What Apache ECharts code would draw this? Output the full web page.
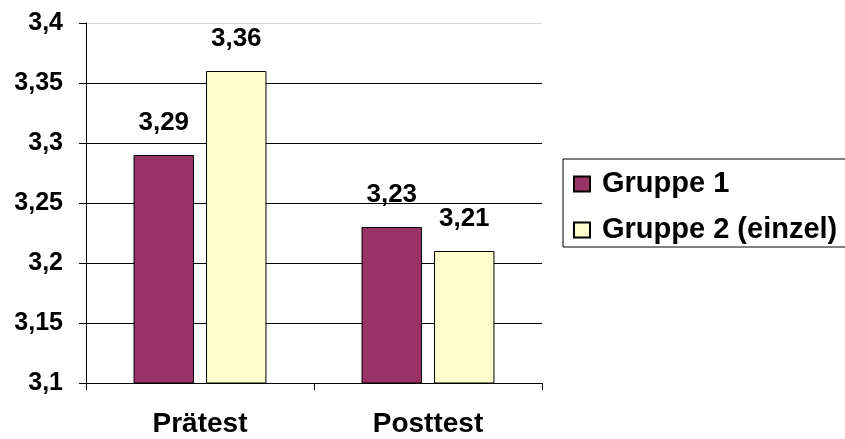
<!DOCTYPE html>
<html>
<head>
<meta charset="utf-8">
<script src="https://cdn.jsdelivr.net/npm/echarts@6/dist/echarts.min.js"></script>
<style>
  html, body { margin: 0; padding: 0; background: #fff; }
  #chart { width: 845px; height: 439px; }
</style>
</head>
<body>
<div id="chart"></div>
<script>
// Test phases on the x axis
const categories = ['Prätest', 'Posttest'];
// Mean scores per group
const gruppe1 = [3.29, 3.23];
const gruppe2 = [3.36, 3.21];
const seriesNames = ['Gruppe 1', 'Gruppe 2 (einzel)'];

const fontFamily = '"Liberation Sans", Arial, sans-serif';
const fmt = v => String(v).replace('.', ',');

const chart = echarts.init(document.getElementById('chart'), null, { renderer: 'canvas' });

const labelStyle = {
  show: true,
  position: 'top',
  distance: 19,
  fontFamily: fontFamily,
  fontWeight: 'bold',
  fontSize: 26,
  color: '#000',
  formatter: p => fmt(p.value)
};

chart.setOption({
  animation: false,
  backgroundColor: '#fff',
  grid: { left: 86, right: 303, top: 23, bottom: 56, containLabel: false },
  legend: {
    left: 563,
    top: 159,
    orient: 'vertical',
    padding: [10, 20, 2, 10],
    itemGap: 16,
    itemWidth: 16,
    itemHeight: 15,
    borderColor: '#000',
    borderWidth: 1,
    icon: 'rect',
    textStyle: {
      fontFamily: fontFamily,
      fontWeight: 'bold',
      fontSize: 29,
      color: '#000',
      lineHeight: 30,
      padding: [0, 0, 0, 7]
    },
    data: seriesNames
  },
  xAxis: {
    type: 'category',
    data: categories,
    axisLine: { show: true, lineStyle: { color: '#000', width: 1 } },
    axisTick: { show: true, inside: false, length: 7, lineStyle: { color: '#000' } },
    axisLabel: {
      margin: 27,
      fontFamily: fontFamily,
      fontWeight: 'bold',
      fontSize: 28,
      color: '#000'
    },
    splitLine: { show: false }
  },
  yAxis: {
    type: 'value',
    min: 3.1,
    max: 3.4,
    interval: 0.05,
    axisLine: { show: true, lineStyle: { color: '#000', width: 1 } },
    axisTick: { show: true, inside: false, length: 7, lineStyle: { color: '#000' } },
    axisLabel: {
      margin: 23,
      fontFamily: fontFamily,
      fontWeight: 'bold',
      fontSize: 25,
      color: '#000',
      formatter: v => fmt(Math.round(v * 100) / 100)
    },
    splitLine: {
      show: true,
      lineStyle: {
        color: ['#000', '#000', '#000', '#000', '#000', '#000', '#d8d8d8'],
        width: 1
      }
    }
  },
  series: [
    {
      name: seriesNames[0],
      type: 'bar',
      data: gruppe1,
      barWidth: '26.5%',
      barGap: '20%',
      itemStyle: { color: '#993366', borderColor: '#000', borderWidth: 1 },
      label: labelStyle
    },
    {
      name: seriesNames[1],
      type: 'bar',
      data: gruppe2,
      barWidth: '26.5%',
      barGap: '20%',
      itemStyle: { color: '#FFFFCC', borderColor: '#000', borderWidth: 1 },
      label: labelStyle
    }
  ]
});
</script>
</body>
</html>
